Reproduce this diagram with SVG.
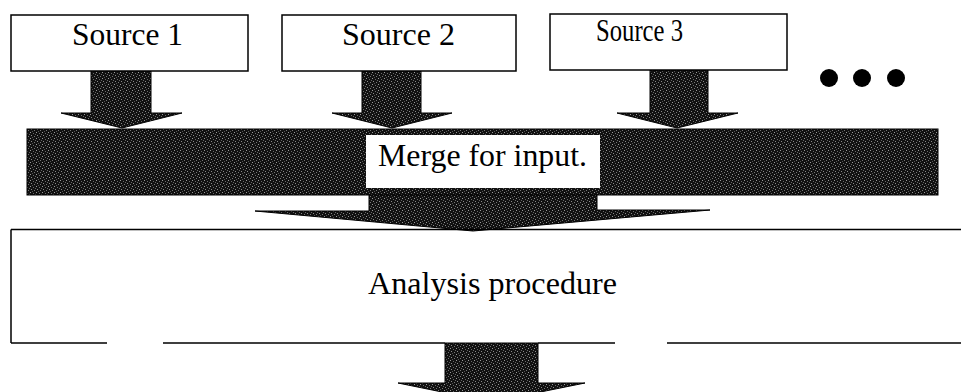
<svg xmlns="http://www.w3.org/2000/svg" width="961" height="392" viewBox="0 0 961 392">
  <style>
    .box { fill: #ffffff; stroke: #000000; stroke-width: 1.5; }
    .line { fill: none; stroke: #000000; stroke-width: 1.5; }
    .label { font-family: "Liberation Serif", "Times New Roman", serif; font-size: 32px; fill: #000000; }
    .arrow { fill: url(#dither); stroke: #000000; stroke-width: 1; }
    .dot { fill: #000000; }
  </style>
  <defs>
    <pattern id="dither" width="6" height="6" patternUnits="userSpaceOnUse">
      <rect width="6" height="6" fill="#111111"/>
      <rect x="0" y="0" width="1" height="1" fill="#9a9a9a"/>
      <rect x="3" y="1" width="1" height="1" fill="#6a6a6a"/>
      <rect x="1" y="3" width="1" height="1" fill="#8a8a8a"/>
      <rect x="4" y="4" width="1" height="1" fill="#777777"/>
      <rect x="2" y="5" width="1" height="1" fill="#555555"/>
      <rect x="5" y="2" width="1" height="1" fill="#666666"/>
    </pattern>
  </defs>

  <g id="connectors">
    <polygon class="arrow" points="91,71 151,71 151,113 182,113 122,128 61,113 91,113"/>
    <polygon class="arrow" points="362,71 421,71 421,113 452,113 392,128 332,113 362,113"/>
    <polygon class="arrow" points="650,70 708,70 708,113 738,113 677,128 617,113 650,113"/>
    <polygon class="arrow" points="369,194 597,194 597,210 710,210 473,231 255,211 369,211"/>
    <polygon class="arrow" points="445,343 538,343 538,383 585,383 491,402 398,383 445,383"/>
  </g>

  <g id="source1">
    <rect class="box" x="11" y="15" width="237" height="56"/>
    <text class="label" x="72" y="45" textLength="111" lengthAdjust="spacingAndGlyphs">Source 1</text>
  </g>
  <g id="source2">
    <rect class="box" x="282" y="15" width="234" height="56"/>
    <text class="label" x="342" y="45" textLength="113" lengthAdjust="spacingAndGlyphs">Source 2</text>
  </g>
  <g id="source3">
    <rect class="box" x="550" y="14" width="237" height="56"/>
    <text class="label" x="596" y="41" textLength="87" lengthAdjust="spacingAndGlyphs">Source 3</text>
  </g>

  <g id="more">
    <circle class="dot" cx="829" cy="78" r="9"/>
    <circle class="dot" cx="862" cy="78" r="9"/>
    <circle class="dot" cx="896" cy="78" r="9"/>
  </g>

  <g id="merge">
    <rect x="27" y="129" width="911" height="66" fill="url(#dither)" stroke="#000000" stroke-width="1"/>
    <rect x="366" y="135" width="234" height="53" fill="#ffffff"/>
    <text class="label" x="378" y="166" textLength="209" lengthAdjust="spacingAndGlyphs">Merge for input.</text>
  </g>

  <g id="analysis">
    <path class="line" d="M 11,229.5 H 961 M 11,229.5 V 343 M 11,343 H 107 M 163,343 H 445 M 538,343 H 615 M 667,343 H 961"/>
    <text class="label" x="368" y="294" textLength="249" lengthAdjust="spacingAndGlyphs">Analysis procedure</text>
  </g>
</svg>
